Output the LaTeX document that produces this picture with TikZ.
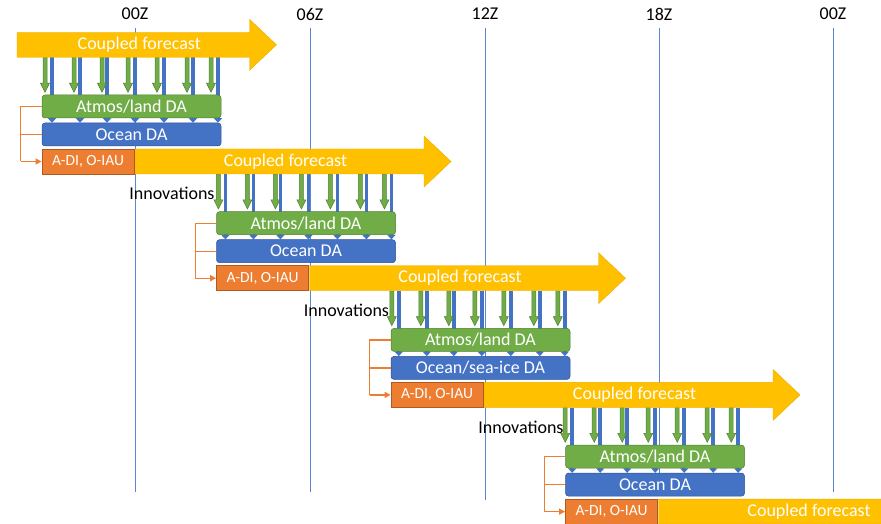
\documentclass[tikz,border=0pt]{standalone}
\usepackage{fontspec}
\setmainfont{Carlito}
\usetikzlibrary{arrows.meta,calc}
\definecolor{gold}{HTML}{FFC000}
\definecolor{goldline}{HTML}{E8AE00}
\definecolor{grn}{HTML}{70AD47}
\definecolor{grnline}{HTML}{507E32}
\definecolor{blu}{HTML}{4472C4}
\definecolor{bluline}{HTML}{2F528F}
\definecolor{orn}{HTML}{ED7D31}
\definecolor{ornline}{HTML}{AE5A21}
\definecolor{tline}{HTML}{5B87D2}
\pgfdeclarelayer{lines}
\pgfdeclarelayer{arrs}
\pgfsetlayers{lines,arrs,main}
\begin{document}
\begin{tikzpicture}[x=1pt,y=-1pt,
  timelab/.style={font=\fontsize{18}{20}\selectfont, inner sep=0pt},
  timeline/.style={draw=tline, line width=1pt},
  fcfill/.style={fill=gold, draw=goldline, line width=0.4pt},
  fctext/.style={font=\fontsize{18}{20}\selectfont, text=white, inner sep=0pt},
  atmosbox/.style={fill=grn, draw=grnline, line width=0.5pt, rounded corners=3pt,
    minimum width=179pt, minimum height=23pt, inner sep=0pt, text=white,
    font=\fontsize{18}{20}\selectfont},
  oceanbox/.style={fill=blu, draw=bluline, line width=0.5pt, rounded corners=3pt,
    minimum width=179pt, minimum height=23pt, inner sep=0pt, text=white,
    font=\fontsize{18}{20}\selectfont},
  adibox/.style={fill=orn, draw=ornline, line width=0.8pt,
    minimum width=92pt, minimum height=25pt, inner sep=0pt, text=white,
    font=\fontsize{15.5}{17}\selectfont},
  bluearr/.style={draw=blu, line width=3.8pt, -{Triangle[width=8pt,length=4.5pt]}},
  grnarr/.style={fill=grn, draw=grnline, line width=0.5pt},
  bracket/.style={draw=orn, line width=1.4pt},
  innov/.style={font=\fontsize{18}{20}\selectfont, inner sep=0pt, anchor=east}
]
\useasboundingbox (0,0) rectangle (881,524);
\clip (0,0) rectangle (881,524);

% time axis
\foreach \xx/\lab/\yb [count=\i] in {135/00Z/492,310/06Z/492,485/12Z/500,659/18Z/492,833/00Z/492} {
  \node[timelab] (T\i) at (\xx,14) {\lab};
  \coordinate (Ltop\i) at (\xx,28);
  \coordinate (Lbot\i) at (\xx,\yb);
  \begin{pgfonlayer}{lines}
    \draw[timeline] (Ltop\i) -- (Lbot\i);
  \end{pgfonlayer}
}

% forecast arrows
\foreach \k in {1,...,5} {
  \pgfmathsetmacro{\ftop}{149+116.7*(\k-2)}
  \pgfmathsetmacro{\fbot}{\ftop+25}
  \pgfmathsetmacro{\fhs}{424+174.5*(\k-2)}
  \pgfmathsetmacro{\fst}{ifthenelse(\k==1,17,135+174.5*(\k-2))}
  \pgfmathsetmacro{\fw}{\fhs-\fst}
  \pgfmathsetmacro{\fcx}{(\fhs+\fst)/2}
  \filldraw[fcfill] (\fst,\ftop) -- (\fhs,\ftop) -- (\fhs,\ftop-13) -- (\fhs+27,\ftop+12.5)
     -- (\fhs,\fbot+13) -- (\fhs,\fbot) -- (\fst,\fbot) -- cycle;
  \node[inner sep=0pt, minimum width=\fw pt, minimum height=25pt] (F\k) at (\fcx,\ftop+12.5) {};
  \node[fctext] (FT\k) at (\fcx+6,\ftop+12.5) {Coupled forecast};
}

% DA blocks
\foreach \k/\otext in {1/{Ocean DA},2/{Ocean DA},3/{Ocean/sea-ice DA},4/{Ocean DA}} {
  \pgfmathsetmacro{\dx}{174.5*(\k-1)}
  \pgfmathsetmacro{\dy}{116.7*(\k-1)}
  \pgfmathsetmacro{\ax}{173.4*(\k-1)}
  \node[atmosbox] (A\k) at (131.5+\dx,106.5+\dy) {Atmos/land DA};
  \node[oceanbox] (O\k) at (131.5+\dx,134.5+\dy) {\otext};
  \node[adibox] (D\k) at (88+\dx,161.5+\dy) {A-DI, O-IAU};
  % innovation arrows
  \begin{pgfonlayer}{arrs}
    \foreach \gx/\bx in {45/52,74/80,102/107,128/135,157/164,187/193,211/218} {
      \draw[bluearr] (\bx+\ax,0 |- F\k.south) -- (\bx+\ax,0 |- O\k.north);
      \filldraw[grnarr] (\gx+\ax,0 |- F\k.south) ++(-2,0) -- ++(0,25.7) -- ++(-2.5,0)
        -- ++(4.5,9) -- ++(4.5,-9) -- ++(-2.5,0) -- ++(0,-25.7) -- cycle;
    }
  \end{pgfonlayer}
  % bracket
  \coordinate (B\k) at ($(A\k.west)+(-21,0)$);
  \draw[bracket] (A\k.west) -- (B\k) -- (B\k |- D\k.west);
  \draw[bracket] (B\k |- O\k.west) -- (O\k.west);
  \draw[bracket, -{Triangle[width=6pt,length=6pt]}] (B\k |- D\k.west) -- (D\k.west);
}

% innovations labels
\foreach \k in {2,3,4} {
  \node[innov] (I\k) at ($(A\k.north west)+(-1.5,-17.7)$) {Innovations};
}
\end{tikzpicture}
\end{document}
